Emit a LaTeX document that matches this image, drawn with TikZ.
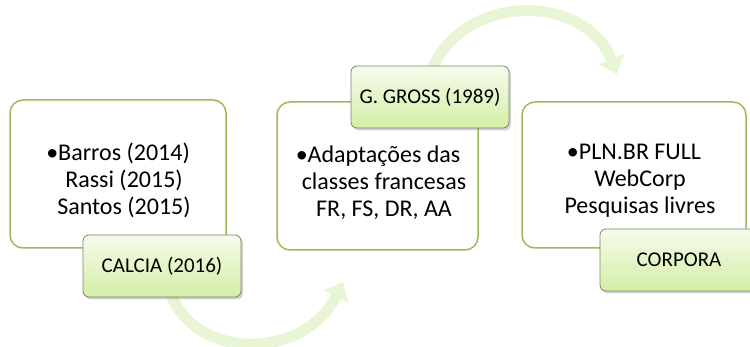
\documentclass[tikz,border=0pt]{standalone}
\usepackage{fontspec}
\setmainfont{Carlito}
\usetikzlibrary{shadows,arrows.meta}
\definecolor{boxline}{RGB}{155,187,89}
\definecolor{labline}{RGB}{120,135,100}
\definecolor{labtop}{RGB}{246,251,236}
\definecolor{labbot}{RGB}{212,238,166}
\definecolor{arrowcol}{RGB}{233,246,214}
\tikzset{
  bigbox/.style={draw=boxline, line width=1.5pt, fill=white, rounded corners=13pt},
  labelbox/.style={draw=labline, line width=0.8pt, top color=labtop, bottom color=labbot,
     rounded corners=6pt, minimum width=158pt, minimum height=62pt, font=\fontsize{21}{25}\selectfont,
     drop shadow={shadow xshift=2pt, shadow yshift=-2.5pt, opacity=0.35}},
  bodytext/.style={align=center, font=\fontsize{24}{27}\selectfont, inner sep=0pt},
  flow/.style={line width=11pt, draw=arrowcol, -{Triangle[length=16pt,width=27pt]}}
}
\begin{document}
\begin{tikzpicture}[x=1pt,y=-1pt]
\useasboundingbox (0,0) rectangle (750,347);
% connectors (behind)
\coordinate (a1s) at (170,292);
\coordinate (a1e) at (343,282);
\coordinate (a2s) at (430,74);
\coordinate (a2e) at (617,74);
\draw[flow] (a1s) .. controls (195,362) and (305,360) .. (a1e);
\draw[flow] (a2s) .. controls (460,-8) and (585,-8) .. (a2e);
% boxes
\draw[bigbox] (10,100) rectangle (226,248);
\node (b1) [bodytext] at (124,180) {\llap{•}Barros (2014)\\Rassi (2015)\\Santos (2015)};
\draw[bigbox] (277,102) rectangle (478,250);
\node (b2) [bodytext] at (384,183) {\llap{•}Adaptações das\\classes francesas\\FR, FS, DR, AA};
\draw[bigbox] (522,102) rectangle (746,248);
\node (b3) [bodytext] at (640,181) {\llap{•}PLN.BR FULL\\WebCorp\\Pesquisas livres};
% labels
\node (l1) [labelbox] at (162,266) {CALCIA (2016)};
\node (l2) [labelbox] at (430,97) {G. GROSS (1989)};
\node (l3) [labelbox] at (679,260) {CORPORA};
\end{tikzpicture}
\end{document}
